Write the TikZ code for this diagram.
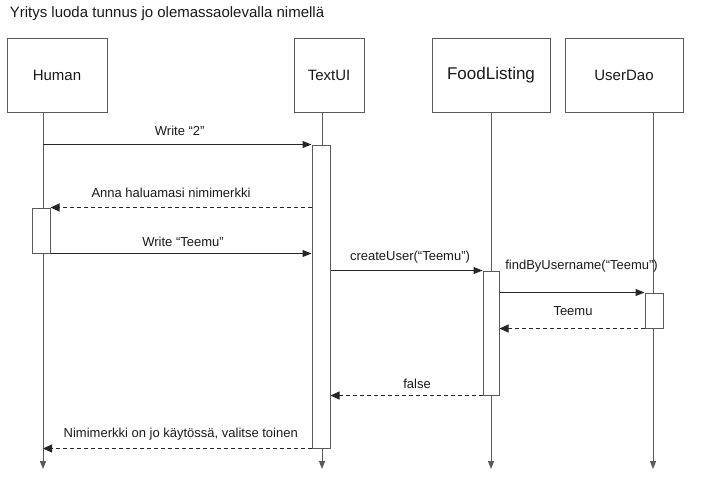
\documentclass[tikz,border=0pt]{standalone}
\usepackage{fontspec}
\setmainfont{Liberation Sans}
\usetikzlibrary{arrows.meta}

\begin{document}
\begin{tikzpicture}[x=1pt,y=-1pt,line width=1pt,
        box/.style={draw=black!65, minimum width=#1, minimum height=74pt, inner sep=0pt, text=black!90, font=\fontsize{15}{18}\selectfont},
        act/.style={draw=black!65, fill=white, minimum width=18pt, inner sep=0pt},
        life/.style={draw=black!65, -{Triangle[length=8pt,width=6pt]}},
        call/.style={draw=black!85, -{Triangle[length=9pt,width=7pt]}},
        reply/.style={draw=black!85, dash pattern=on 4pt off 3pt, -{Triangle[length=9pt,width=8pt]}},
        lbl/.style={anchor=base, text=black!90, font=\fontsize{13}{15}\selectfont}]
        \useasboundingbox (0,0) rectangle (703,496);

        \node[anchor=base west, text=black!90, font=\fontsize{15}{18}\selectfont] (title) at (6,17.5) {Yritys luoda tunnus jo olemassaolevalla nimellä};

        % participants
        \node[box=100pt] (human) at (57,75) {Human};
        \node[box=70pt] (textui) at (329,75) {TextUI};
        \node[box=118pt, font=\fontsize{17}{20}\selectfont] (food) at (491,75) {\raisebox{3pt}{FoodListing}};
        \node[box=118pt] (dao) at (624,75) {UserDao};

        % lifelines
        \coordinate (humanLine) at (43,0);
        \coordinate (textLine) at (322,0);
        \coordinate (foodLine) at (491,0);
        \coordinate (daoLine) at (653,0);
        \coordinate (bottom) at (0,469);
        \draw[life] (human.south -| humanLine) -- (humanLine |- bottom);
        \draw[life] (textui.south -| textLine) -- (textLine |- bottom);
        \draw[life] (food.south -| foodLine) -- (foodLine |- bottom);
        \draw[life] (dao.south -| daoLine) -- (daoLine |- bottom);

        % activations
        \node[act, minimum height=45pt] (actHuman) at (41,230.5) {};
        \node[act, minimum height=303pt] (actText) at (321,296.5) {};
        \node[act, minimum width=16pt, minimum height=124pt] (actFood) at (491,333) {};
        \node[act, minimum height=35pt] (actDao) at (654,310.5) {};

        % messages
        \draw[call] (actText.north west -| humanLine) -- (actText.north west)
            node[lbl, midway, yshift=9.5pt, xshift=2.5pt] {Write “2”};
        \draw[reply] (actText.west |- actHuman.north) -- (actHuman.north east)
            node[lbl, midway, yshift=10.5pt, xshift=-10pt] {Anna haluamasi nimimerkki};
        \draw[call] (actHuman.south east) -- (actText.west |- actHuman.south)
            node[lbl, midway, yshift=7.5pt, xshift=2pt] {Write “Teemu”};
        \draw[call] (actText.east |- actFood.north) -- (actFood.north west)
            node[lbl, midway, yshift=10pt, xshift=3.5pt] {createUser(“Teemu”)};
        \draw[call] (actFood.east |- actDao.north) -- (actDao.north west)
            node[lbl, pos=0, anchor=base west, yshift=23.5pt, xshift=2pt] {findByUsername(“Teemu”)};
        \draw[reply] (actDao.south west) -- (actFood.east |- actDao.south)
            node[lbl, midway, yshift=13.5pt, xshift=1pt] {Teemu};
        \draw[reply] (actFood.south west) -- (actText.east |- actFood.south)
            node[lbl, midway, yshift=7.5pt, xshift=10.5pt] {false};
        \draw[reply] (actText.south west) -- (actText.south west -| humanLine)
            node[lbl, midway, yshift=11.5pt, xshift=3.5pt] {Nimimerkki on jo käytössä, valitse toinen};

\end{tikzpicture}
\end{document}
